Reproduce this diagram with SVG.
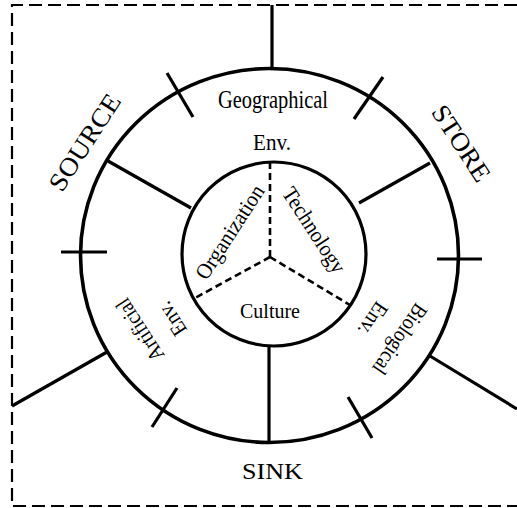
<svg xmlns="http://www.w3.org/2000/svg" width="517" height="508" viewBox="0 0 517 508">
<style>
.t{font-family:"Liberation Serif","Times New Roman",serif;fill:#000;text-anchor:middle}
.ln{stroke:#000;stroke-width:3.2;fill:none;stroke-linecap:butt}
.dsh{stroke:#000;stroke-width:2.6;fill:none;stroke-dasharray:7 4}
.brd{stroke:#000;stroke-width:2.2;fill:none;stroke-dasharray:13 6}
</style>
<rect width="517" height="508" fill="#fff"/>
<g id="border">
<path class="brd" d="M517,5 H12 V506 H517"/>
</g>
<g id="outer-ring">
<ellipse cx="269.5" cy="255.5" rx="189" ry="187" fill="none" stroke="#000" stroke-width="3.6"/>
</g>
<g id="inner-circle">
<circle cx="274" cy="254" r="92" fill="none" stroke="#000" stroke-width="3.2"/>
</g>
<g id="connectors">
<line class="ln" x1="272" y1="5" x2="272" y2="68"/>
<line class="ln" x1="108" y1="161" x2="191" y2="208"/>
<line class="ln" x1="430" y1="163" x2="359" y2="203"/>
<line class="ln" x1="269" y1="346" x2="269" y2="442"/>
<line class="ln" x1="107" y1="352" x2="12" y2="406"/>
<line class="ln" x1="430" y1="356" x2="517" y2="409"/>
<line class="dsh" x1="270" y1="162" x2="270" y2="257"/>
<line class="dsh" x1="270" y1="257" x2="195" y2="298"/>
<line class="dsh" x1="270" y1="257" x2="350" y2="305"/>
</g>
<g id="ticks">
<line class="ln" x1="437" y1="259" x2="482" y2="259"/>
<line class="ln" x1="61" y1="252" x2="107" y2="252"/>
<line class="ln" x1="167" y1="73" x2="193" y2="117"/>
<line class="ln" x1="383" y1="77" x2="354" y2="119"/>
<line class="ln" x1="152" y1="427" x2="177" y2="388"/>
<line class="ln" x1="348" y1="397" x2="372" y2="438"/>
</g>
<g id="geographical-env">
<text class="t" x="273" y="108" font-size="25" textLength="110" lengthAdjust="spacingAndGlyphs">Geographical</text>
<text class="t" x="272" y="150" font-size="24" textLength="38" lengthAdjust="spacingAndGlyphs">Env.</text>
</g>
<g id="artificial-env">
<text class="t" font-size="22" transform="translate(146,326) rotate(-123)" textLength="70" lengthAdjust="spacingAndGlyphs">Artificial</text>
<text class="t" font-size="22" transform="translate(178,315) rotate(-123)" textLength="36" lengthAdjust="spacingAndGlyphs">Env.</text>
</g>
<g id="biological-env">
<text class="t" font-size="22" transform="translate(394,335) rotate(124)" textLength="80" lengthAdjust="spacingAndGlyphs">Biological</text>
<text class="t" font-size="22" transform="translate(367,315) rotate(124)" textLength="36" lengthAdjust="spacingAndGlyphs">Env.</text>
</g>
<g id="organization">
<text class="t" font-size="22" transform="translate(236,236) rotate(-57)" textLength="108" lengthAdjust="spacingAndGlyphs">Organization</text>
</g>
<g id="technology">
<text class="t" font-size="22" transform="translate(308,234) rotate(57)" textLength="98" lengthAdjust="spacingAndGlyphs">Technology</text>
</g>
<g id="culture">
<text class="t" x="270" y="318" font-size="22" textLength="60" lengthAdjust="spacingAndGlyphs">Culture</text>
</g>
<g id="source">
<text class="t" font-size="26" transform="translate(92,147) rotate(-57)" textLength="110" lengthAdjust="spacingAndGlyphs">SOURCE</text>
</g>
<g id="store">
<text class="t" font-size="26" transform="translate(454,148) rotate(57)" textLength="86" lengthAdjust="spacingAndGlyphs">STORE</text>
</g>
<g id="sink">
<text class="t" x="272.5" y="479" font-size="23" textLength="61" lengthAdjust="spacingAndGlyphs">SINK</text>
</g>
</svg>
